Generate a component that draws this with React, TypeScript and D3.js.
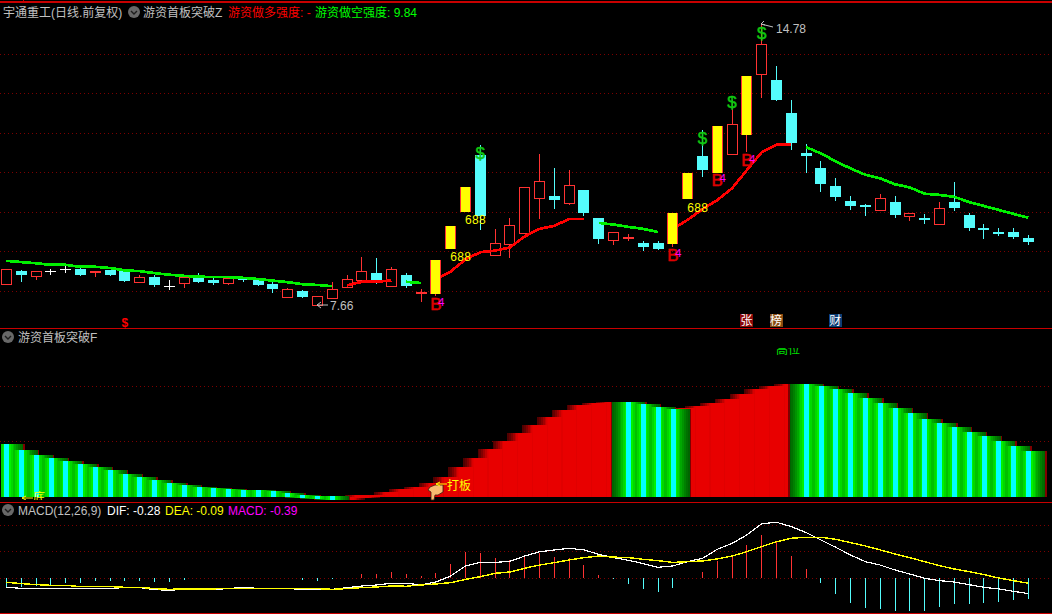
import React from "react";
import * as d3 from "d3";

// ---------- candles (open, high, low, close per day) ----------
const opens = [8.19,8.51,8.39,8.51,8.56,8.56,8.50,8.54,8.51,8.24,8.35,8.13,8.22,8.34,8.29,8.22,8.34,8.30,8.18,7.86,8.01,7.66,7.84,8.12,8.29,8.46,8.14,8.41,7.96,7.94,9.08,10.01,11.45,8.91,9.21,9.48,10.37,10.41,10.24,10.56,9.86,9.31,9.37,9.22,9.22,9.20,10.34,11.43,10.99,11.48,11.96,13.51,13.35,12.51,11.49,11.12,10.67,10.29,10.18,10.06,10.26,9.91,9.86,9.71,10.26,9.93,9.60,9.50,9.50,9.35];
const highs = [8.56,8.54,8.51,8.56,8.64,8.61,8.51,8.54,8.51,8.41,8.41,8.29,8.35,8.46,8.36,8.33,8.34,8.30,8.24,8.08,8.03,7.87,8.24,8.41,8.87,8.84,8.62,8.46,8.07,8.79,9.65,10.64,11.70,9.58,9.86,10.63,11.48,11.12,11.07,10.56,9.86,9.49,9.45,9.27,9.27,9.98,10.99,12.08,12.18,12.84,13.45,14.78,13.70,12.84,11.73,11.30,10.87,10.41,10.21,10.46,10.41,9.97,9.96,10.26,10.77,9.98,9.70,9.60,9.60,9.43];
const lows = [8.19,8.26,8.29,8.44,8.49,8.42,8.39,8.42,8.26,8.24,8.14,8.06,8.09,8.24,8.18,8.16,8.26,8.15,7.98,7.86,7.86,7.66,7.84,8.12,8.29,8.20,8.14,8.11,7.75,7.89,9.08,10.01,9.58,8.91,8.84,9.48,9.83,10.11,10.18,9.93,9.22,9.17,9.30,9.05,9.07,9.12,10.34,10.92,10.99,11.48,11.53,12.89,12.84,11.61,11.02,10.54,10.31,10.08,9.93,10.03,9.88,9.78,9.73,9.71,10.06,9.55,9.35,9.43,9.35,9.20];
const closes = [8.56,8.41,8.51,8.51,8.56,8.42,8.51,8.42,8.26,8.35,8.17,8.13,8.35,8.24,8.21,8.33,8.31,8.17,8.06,8.05,7.86,7.87,8.05,8.30,8.51,8.25,8.56,8.13,7.97,8.79,9.65,10.64,9.91,9.22,9.67,10.63,10.78,10.31,10.68,9.98,9.32,9.49,9.38,9.12,9.07,9.98,10.99,11.07,12.18,12.23,13.45,14.25,12.84,11.75,11.43,10.72,10.39,10.16,10.13,10.35,9.93,9.97,9.81,10.10,10.11,9.60,9.55,9.48,9.37,9.25];
const limitUpDays = [29,30,31,45,46,48,50];

// ---------- trend line segments ----------
const trendGreenA = [8.77,8.74,8.71,8.67,8.67,8.62,8.62,8.59,8.53,8.51,8.46,8.42,8.39,8.37,8.36,8.36,8.34,8.31,8.27,8.23,8.18,8.16,8.13];
const trendRedA = [8.15,8.24,8.24,8.28];
const trendGreenB = [8.24,8.21];
const trendRedB = [8.31,8.50,8.81,8.99,9.03,9.11,9.39,9.58,9.66,9.83,9.83];
const trendGreenC = [9.73,9.69,9.63,9.58,9.50];
const trendRedC = [9.58,9.81,10.08,10.31,10.61,11.07,11.52,11.71,11.71];
const trendGreenD = [11.65,11.49,11.29,11.11,10.95,10.86,10.71,10.63,10.47,10.44,10.39,10.26,10.16,10.06,9.96,9.86];
const trendSegments: [number, number[], string][] = [
  [0, trendGreenA, "#00f000"], [23, trendRedA, "#ff0000"], [27, trendGreenB, "#00f000"],
  [29, trendRedB, "#ff0000"], [40, trendGreenC, "#00f000"], [45, trendRedC, "#ff0000"], [54, trendGreenD, "#00f000"],
];

// ---------- signals ----------
const dollarDays = [32,47,49,51];
const dollarPrices = [11.35,11.73,12.64,14.39];
const d688Days = [31,30,46];
const d688Prices = [9.70,8.77,10.0];
const buyDays = [29,45,48,50];
const buyPrices = [7.53,8.77,10.67,11.17];
const priceTicks = [8,9,10,11,12,13,14];

// ---------- oscillator panel ----------
const oscTops = [47.7,42.3,37.8,35.1,32.3,29.6,26.9,24.2,20.6,17.8,15.1,12.4,10.6,8.8,7.9,7.0,6.3,6.1,5.2,3.4,1.5,0.6,0.6,0,1.3,1.8,4.3,7.0,8.8,12.4,17.8,26.9,35.1,43.2,50.5,57.7,64.9,72.2,78.5,83.1,84.9,85.8,85.8,84,81.2,79.4,80.3,82.2,84.9,88.5,93,97.6,100.3,102.1,102.1,100.3,97.6,93.9,89.4,84.9,80.3,75.8,70.4,66.8,63.1,58.6,55,50.5,45.9,41.4];
const oscBottoms: Record<number, number> = {20:-0.9,21:-2.1,22:-3,23:-3,24:-0.9};
const greenRanges = [[0,22],[42,45],[54,69]];
const oscTicks = [50,100];
const greenLayers: [number,string][] = [[18,"#800000"],[16.5,"#006400"],[15,"#007000"],[13,"#008000"],[11,"#009400"],[9,"#00a800"],[7.4,"#00c000"],[6,"#00d800"],[4,"#00f000"],[2.5,"#00ffff"]];
const redLayers: [number,string][] = [[17.5,"#500000"],[16,"#640000"],[14,"#800000"],[12,"#a00000"],[10,"#c00000"],[8.5,"#d80000"],[7.4,"#e00000"],[6.8,"#e80000"]];

// ---------- MACD ----------
const macdHist = [-0.17,-0.17,-0.145,-0.125,-0.08,-0.08,-0.05,-0.05,-0.05,-0.05,-0.07,-0.07,-0.03,0,0,0,0,0,0,0,-0.03,-0.05,-0.015,0,0.08,0.08,0.12,0.08,0.045,0.10,0.27,0.49,0.48,0.38,0.35,0.42,0.48,0.40,0.38,0.25,0.06,-0.02,-0.11,-0.20,-0.26,-0.18,0,0.12,0.33,0.44,0.63,0.82,0.69,0.42,0.18,-0.09,-0.30,-0.47,-0.56,-0.58,-0.62,-0.62,-0.62,-0.54,-0.48,-0.48,-0.47,-0.45,-0.41,-0.39];
const dif = [-0.17,-0.19,-0.195,-0.195,-0.195,-0.19,-0.19,-0.19,-0.176,-0.176,-0.214,-0.226,-0.208,-0.208,-0.208,-0.195,-0.17,-0.19,-0.195,-0.19,-0.214,-0.214,-0.208,-0.176,-0.145,-0.126,-0.094,-0.094,-0.126,-0.07,0.044,0.233,0.30,0.30,0.32,0.42,0.50,0.535,0.566,0.535,0.453,0.39,0.34,0.277,0.208,0.233,0.314,0.377,0.547,0.66,0.818,1.03,1.057,0.975,0.862,0.723,0.585,0.44,0.314,0.25,0.157,0.08,0,-0.044,-0.07,-0.12,-0.17,-0.2,-0.245,-0.29];
const dea = [-0.075,-0.10,-0.12,-0.132,-0.132,-0.157,-0.157,-0.157,-0.17,-0.17,-0.195,-0.208,-0.2,-0.2,-0.2,-0.19,-0.19,-0.19,-0.19,-0.19,-0.195,-0.195,-0.208,-0.195,-0.176,-0.164,-0.145,-0.15,-0.126,-0.107,-0.082,-0.02,0.03,0.094,0.12,0.19,0.25,0.296,0.346,0.39,0.42,0.40,0.39,0.358,0.333,0.30,0.314,0.327,0.365,0.42,0.503,0.597,0.69,0.755,0.774,0.774,0.736,0.673,0.61,0.535,0.459,0.39,0.314,0.239,0.176,0.126,0.07,0.006,-0.044,-0.094];
const macdTicks = [0,0.5,1];

// ---------- colours ----------
const UP = "#ff3232", DOWN = "#54fcfc", GRID = "#7c0000", FRAME = "#c80000";
const FONT = '"Liberation Sans","Noto Sans CJK SC",sans-serif';

const x = d3.scaleLinear().domain([0, 69]).range([6.4, 1028.3]);
const yP = d3.scaleLinear().domain([8, 14]).range([291.3, 54.3]);
const yO = d3.scaleLinear().domain([0, 100]).range([496.7, 386.3]);
const yM = d3.scaleLinear().domain([0, 1]).range([578.3, 525.3]);
const px = (i: number) => Math.floor(x(i));

function Candle({ i }: { i: number }) {
  const o = opens[i], c = closes[i], h = highs[i], l = lows[i];
  const cx = px(i);
  const top = Math.round(yP(Math.max(o, c))), bot = Math.round(yP(Math.min(o, c)));
  const yh = Math.round(yP(h)), yl = Math.round(yP(l));
  const wick = (a: number, b: number, col: string) =>
    b > a ? <rect x={cx} y={a} width={1} height={b - a} fill={col} /> : null;
  if (o === c) {
    return <g>{wick(yh, yl + 1, "#fff")}<rect x={cx - 5} y={top} width={11} height={1} fill="#fff" /></g>;
  }
  if (c > o) {
    if (bot - top <= 1) {
      return <g>{wick(yh, yl + 1, UP)}<rect x={cx - 5} y={top} width={11} height={2} fill={UP} /></g>;
    }
    return <g>
      {wick(yh, top, UP)}{wick(bot, yl, UP)}
      <rect x={cx - 4.5} y={top + 0.5} width={10} height={bot - top} fill="#000" stroke={UP} />
    </g>;
  }
  return <g>{wick(yh, yl + 1, DOWN)}<rect x={cx - 5} y={top} width={11} height={Math.max(2, bot - top)} fill={DOWN} /></g>;
}

function LimitBar({ i }: { i: number }) {
  const cx = px(i);
  const top = Math.round(yP(closes[i])), bot = Math.round(yP(opens[i]));
  const yl = Math.round(yP(lows[i]));
  return <g>
    {yl > bot ? <rect x={cx} y={bot} width={1} height={yl - bot} fill={UP} /> : null}
    <rect x={cx - 5} y={top} width={11} height={bot - top} fill="#ffff00" />
    <rect x={cx - 5} y={top} width={1} height={bot - top} fill={UP} />
    <rect x={cx + 5} y={top} width={1} height={bot - top} fill={UP} />
  </g>;
}

function Icon({ cx, cy }: { cx: number; cy: number }) {
  return <g>
    <circle cx={cx} cy={cy} r={6} fill="#686868" />
    <path d={`M${cx - 3} ${cy - 1}L${cx} ${cy + 2}L${cx + 3} ${cy - 1}`} stroke="#1c1c1c" strokeWidth={1.4} fill="none" />
  </g>;
}

function Grid({ ys, x0 = 0 }: { ys: number[]; x0?: number }) {
  return <g>{ys.map((y) => (
    <line key={y} x1={x0} x2={1052} y1={Math.floor(y) + 0.5} y2={Math.floor(y) + 0.5} stroke={GRID} strokeDasharray="1 3" />
  ))}</g>;
}

function Txt(p: any) {
  return <text fontFamily={FONT} fontSize={12} {...p}>{p.children}</text>;
}

function isGreen(i: number) {
  return greenRanges.some(([a, b]) => i >= a && i <= b);
}

export default function App() {
  const all = d3.range(opens.length);
  const normal = all.filter((i) => !limitUpDays.includes(i));
  const oscRed = all.filter((i) => !isGreen(i));
  const oscGreen = all.filter(isGreen);
  const trendLine = (start: number) =>
    d3.line<number>().x((_, k) => x(start + k)).y((v) => yP(v));
  const macdLine = d3.line<number>().x((_, k) => x(k)).y((v) => yM(v));
  const bottomOf = (i: number) => yO(oscBottoms[i] ?? 0);

  const stick = (i: number, half: number, col: string) => {
    const t = Math.round(yO(oscTops[i]));
    const b = Math.round(bottomOf(i));
    const l = Math.max(1, Math.round(x(i) + 0.2 - half));
    const r = Math.round(x(i) + 0.2 + half);
    return <rect key={`${i}-${half}`} x={l} y={t} width={r - l} height={Math.max(1, b - t)} fill={col} />;
  };

  return (
    <svg width={1052} height={614} viewBox="0 0 1052 614"
      style={{ position: "fixed", left: 0, top: 0, background: "#000", display: "block" }}>
      <defs>
        <clipPath id="clipHigh"><rect x={760} y={348} width={60} height={10} /></clipPath>
        <clipPath id="clipLow"><rect x={10} y={488} width={60} height={12} /></clipPath>
      </defs>
      <rect width={1052} height={614} fill="#000" />

      {/* grids */}
      <Grid ys={priceTicks.map((t) => yP(t))} />
      <Grid ys={oscTicks.map((t) => yO(t))} />
      <Grid ys={macdTicks.map((t) => yM(t))} />

      {/* frame */}
      <g shapeRendering="crispEdges">
        <rect x={0} y={1} width={1052} height={1.5} fill={FRAME} />
        <rect x={23} y={0} width={1} height={2} fill={FRAME} />
        <rect x={0} y={328} width={1052} height={1} fill={FRAME} />
        <rect x={0} y={502} width={1052} height={1} fill={FRAME} />
        <rect x={0} y={613} width={1052} height={1} fill={FRAME} />
      </g>

      {/* candles */}
      <g shapeRendering="crispEdges">{normal.map((i) => <Candle key={i} i={i} />)}</g>

      {/* trend */}
      <g shapeRendering="crispEdges" fill="none" strokeWidth={2.7}>
        {trendSegments.map(([s, v, c]) => (
          <path key={s} d={trendLine(s)(v) ?? ""} stroke={c} />
        ))}
      </g>
      <g shapeRendering="crispEdges">{limitUpDays.map((i) => <LimitBar key={i} i={i} />)}</g>

      {/* signals */}
      {dollarDays.map((d, k) => (
        <text key={d} x={x(d)} y={yP(dollarPrices[k])} fontFamily={FONT} fontSize={17} fill="#10c810" stroke="#10c810" strokeWidth={0.5} textAnchor="middle">$</text>
      ))}
      {d688Days.map((d, k) => (
        <Txt key={d} x={x(d) + 10} y={yP(d688Prices[k])} fill="#ffff00" textAnchor="middle" letterSpacing={0.3}>688</Txt>
      ))}
      {buyDays.map((d, k) => (
        <g key={d}>
          <text x={x(d)} y={yP(buyPrices[k])} fontFamily={FONT} fontSize={17} fill="#e00000" stroke="#e00000" strokeWidth={0.5} textAnchor="middle">B</text>
          <text x={x(d) + 5.5} y={yP(buyPrices[k]) - 3.5} fontFamily={FONT} fontSize={11} fill="#ff00ff" textAnchor="middle">4</text>
        </g>
      ))}

      {/* min / max */}
      <path d="M317 305H328M317 305l4 -3M317 305l4 3" stroke="#c0c0c0" fill="none" />
      <Txt x={330} y={310} fill="#c0c0c0">7.66</Txt>
      <path d="M761 24L773 27M761 24l3 -3M761 24l4 1" stroke="#c0c0c0" fill="none" />
      <Txt x={776} y={33} fill="#c0c0c0">14.78</Txt>

      {/* bottom markers */}
      <text x={x(8)} y={327} fontFamily={FONT} fontSize={12} fontWeight="bold" fill="#ff0000" textAnchor="middle">$</text>
      {[[50, "张", "#8c0808"], [52, "榜", "#8a4c10"], [56, "财", "#0c3c74"]].map(([d, t, c]) => (
        <g key={t as string}>
          <rect x={x(d as number) - 7} y={314} width={13} height={13} fill={c as string} shapeRendering="crispEdges" />
          <Txt x={x(d as number) - 0.5} y={325} fill="#fff" textAnchor="middle">{t}</Txt>
        </g>
      ))}

      {/* oscillator: layers run widest to narrowest, red first then green */}
      <g shapeRendering="crispEdges">
        {redLayers.map(([h, c]) => oscRed.map((i) => stick(i, h, c)))}
        {greenLayers.map(([h, c]) => oscGreen.map((i) => stick(i, h, c)))}
      </g>
      <Txt x={776} y={354} fill="#00e000" clipPath="url(#clipHigh)">高位</Txt>
      <g clipPath="url(#clipLow)">
        <path d="M22 498H33M22 498l4 -2M22 498l4 2" stroke="#ffff00" fill="none" />
        <Txt x={33} y={502} fill="#ffff00">底</Txt>
      </g>
      <path d="M435 485 L443 485 L443 492 L438 495 L435 495 L434 500 L431 500 L431 492 L428 490 L430 487 Z"
        fill="#f8bc70" stroke="#3a2010" strokeWidth={0.8} />
      <path d="M436 484H447M436 484l4 -2M436 484l4 2" stroke="#ffff00" fill="none" />
      <Txt x={447} y={490} fill="#ffff00">打板</Txt>

      {/* MACD */}
      <g shapeRendering="crispEdges">
        {macdHist.map((v, i) =>
          v === 0 ? null : (
            <rect key={i} x={px(i)} y={Math.min(yM(v), yM(0))} width={1.4}
              height={Math.abs(yM(v) - yM(0))} fill={v > 0 ? UP : DOWN} />
          ))}
      </g>
      <g shapeRendering="crispEdges" fill="none">
        <path d={macdLine(dif) ?? ""} stroke="#ffffff" strokeWidth={1.2} />
        <path d={macdLine(dea) ?? ""} stroke="#ffff00" strokeWidth={1.4} />
      </g>

      {/* headers */}
      <Txt x={3} y={17} fill="#c0c0c0">宇通重工(日线.前复权)</Txt>
      <Icon cx={134} cy={12} />
      <Txt x={143} y={17} fill="#c0c0c0">游资首板突破Z</Txt>
      <Txt x={228} y={17} fill="#ff0000">游资做多强度: -</Txt>
      <Txt x={315} y={17} fill="#00ff00">游资做空强度: 9.84</Txt>

      <Icon cx={8} cy={337} />
      <Txt x={18} y={342} fill="#c0c0c0">游资首板突破F</Txt>

      <Icon cx={8} cy={510} />
      <Txt x={18} y={515} fill="#c0c0c0">MACD(12,26,9)</Txt>
      <Txt x={107} y={515} fill="#ffffff">DIF: -0.28</Txt>
      <Txt x={165} y={515} fill="#ffff00">DEA: -0.09</Txt>
      <Txt x={228} y={515} fill="#ff00ff">MACD: -0.39</Txt>
    </svg>
  );
}
